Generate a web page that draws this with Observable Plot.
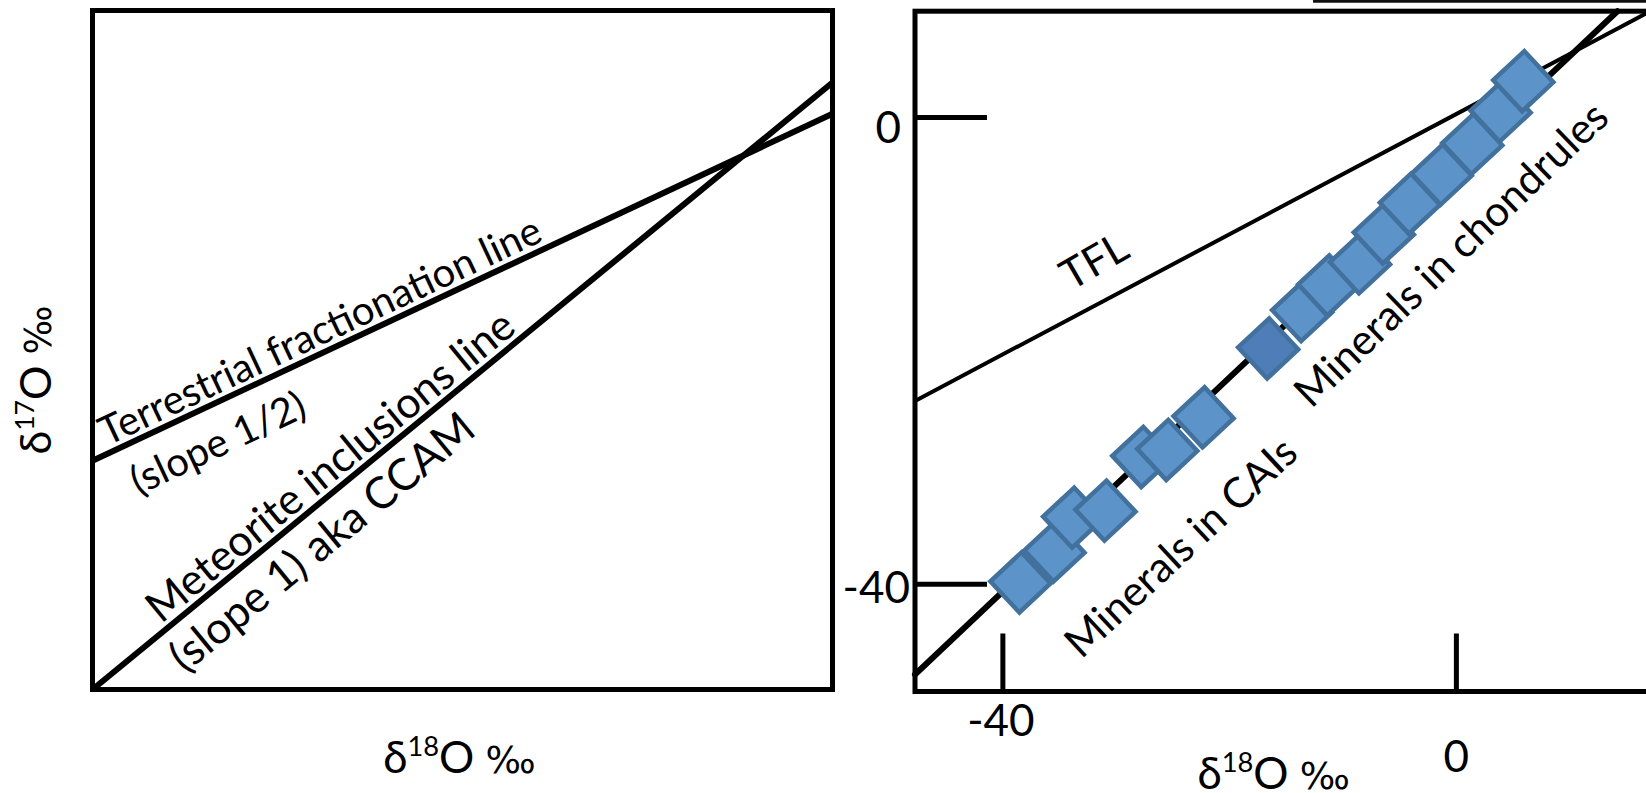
<!DOCTYPE html>
<html><head><meta charset="utf-8">
<script src="https://cdn.jsdelivr.net/npm/d3@7"></script>
<script src="https://cdn.jsdelivr.net/npm/@observablehq/plot@0.6"></script>
<style>
html,body{margin:0;padding:0;background:#fff;overflow:hidden;width:1646px;height:793px;}
#wrap{display:flex;width:1646px;height:793px;}
#left{width:840px;height:793px;flex:none;}
#right{width:806px;height:793px;overflow:hidden;flex:none;}
svg{display:block;max-width:none !important;}
</style></head><body><div id="wrap"><div id="left"></div><div id="right"></div></div>
<script>
// ---------- Left schematic panel (arbitrary units 0–100) ----------
const schematicX = [0, 100];
const tflSchematicY = [33.7, 84.8];
const ccamSchematicY = [0, 89.4];
const schematicLabels = [
  {text: "Terrestrial fractionation line", x: 30.8, y: 52.7, angle: -25.2},
  {text: "(slope 1/2)", x: 17.0, y: 36.2, angle: -25.2},
  {text: "Meteorite inclusions line", x: 32.2, y: 32.8, angle: -39.4},
  {text: "(slope 1) aka CCAM", x: 31.1, y: 21.6, angle: -39.4}
];
const axisLabelX = "δ18O ‰";
const axisLabelY = "δ17O ‰";

// ---------- Right data panel (‰) ----------
const ticksX = [-40, 0];
const ticksY = [0, -40];
const tflX = [-47.75, 16.8];
const tflY = [-24.3, 8.94];
const ccamX = [-47.75, 14.2];
const ccamY = [-47.74, 9.1];
const caiX = [-38.45, -35.45, -33.8, -30.95, -27.7, -25.5, -22.3];
const caiY = [-39.85, -37.2, -34.3, -33.7, -29.1, -28.5, -25.7];
const darkX = [-16.6];
const darkY = [-19.8];
const chondruleX = [-13.6, -11.3, -8.5, -6.4, -4.1, -1.3, 1.4, 3.9, 5.9];
const chondruleY = [-16.6, -14.4, -12.5, -9.95, -7.4, -4.9, -2.3, 0.5, 3.1];
const dataLabels = [
  {text: "TFL", x: -31.9, y: -12.4, angle: -30},
  {text: "Minerals in CAIs", x: -24.25, y: -36.9, angle: -43},
  {text: "Minerals in chondrules", x: -0.4, y: -11.8, angle: -44}
];
const neighbourEdge = {y: 10.0, x1: -12.6, x2: 17.65};

const FONT = "Lato, 'Open Sans', sans-serif";
const tickShape = {draw(context, l) { context.moveTo(0, 0); context.lineTo(0, -l); }};

const left = Plot.plot({
  width: 840, height: 793,
  marginLeft: 92, marginRight: 8, marginTop: 10, marginBottom: 104,
  style: {fontFamily: FONT, background: "white", color: "black"},
  x: {domain: [0, 100], axis: null},
  y: {domain: [0, 100], axis: null},
  marks: [
    Plot.line({length: 2}, {x: schematicX, y: tflSchematicY, stroke: "black", strokeWidth: 6, strokeLinecap: "butt"}),
    Plot.line({length: 2}, {x: schematicX, y: ccamSchematicY, stroke: "black", strokeWidth: 6, strokeLinecap: "butt"}),
    Plot.frame({stroke: "black", strokeWidth: 5}),
    Plot.text(schematicLabels.slice(0, 2), {x: "x", y: "y", text: "text", rotate: "angle", fontSize: 40, textAnchor: "middle", lineAnchor: "middle"}),
    Plot.text(schematicLabels.slice(2, 3), {x: "x", y: "y", text: "text", rotate: "angle", fontSize: 43, textAnchor: "middle", lineAnchor: "middle"}),
    Plot.text(schematicLabels.slice(3), {x: "x", y: "y", text: "text", rotate: "angle", fontSize: 44, textAnchor: "middle", lineAnchor: "middle"}),
    Plot.text([axisLabelX], {frameAnchor: "bottom", textAnchor: "middle", dx: -3, dy: 83, lineAnchor: "bottom", fontSize: 44}),
    Plot.text([axisLabelY], {frameAnchor: "left", textAnchor: "middle", rotate: -90, dx: -42, dy: 30, lineAnchor: "bottom", fontSize: 43})
  ]
});

const right = Plot.plot({
  width: 826, height: 793,
  marginLeft: 74.5, marginRight: 10, marginTop: 10.7, marginBottom: 102,
  style: {fontFamily: FONT, background: "white", color: "black"},
  x: {domain: [-47.75, 17.65], axis: null},
  y: {domain: [-49.2, 9.1], axis: null},
  marks: [
    Plot.ruleY([neighbourEdge], {y: "y", x1: "x1", x2: "x2", stroke: "#111", strokeWidth: 4}),
    Plot.line({length: 2}, {x: tflX, y: tflY, stroke: "black", strokeWidth: 4}),
    Plot.line({length: 2}, {x: ccamX, y: ccamY, stroke: "black", strokeWidth: 6}),
    Plot.frame({stroke: "black", strokeWidth: 5}),
    Plot.vector(ticksY, {y: d => d, frameAnchor: "left", rotate: 90, length: 72, anchor: "start", shape: tickShape, stroke: "black", strokeWidth: 5, strokeLinecap: "butt"}),
    Plot.vector(ticksX, {x: d => d, frameAnchor: "bottom", length: 58, anchor: "start", shape: tickShape, stroke: "black", strokeWidth: 5, strokeLinecap: "butt"}),
    Plot.dot({length: caiX.length}, {x: caiX, y: caiY, symbol: "square", r: 24, rotate: -43, fill: "#5c93c9", stroke: "#41719c", strokeWidth: 4.5}),
    Plot.dot({length: darkX.length}, {x: darkX, y: darkY, symbol: "square", r: 24, rotate: -43, fill: "#4e7db8", stroke: "#41719c", strokeWidth: 4.5}),
    Plot.dot({length: chondruleX.length}, {x: chondruleX, y: chondruleY, symbol: "square", r: 24, rotate: -43, fill: "#5c93c9", stroke: "#41719c", strokeWidth: 4.5}),
    Plot.text(dataLabels, {x: "x", y: "y", text: "text", rotate: "angle", fontSize: 42, textAnchor: "middle", lineAnchor: "middle"}),
    Plot.text(ticksY.filter(d => d === 0), {y: d => d, text: d => String(d), frameAnchor: "left", textAnchor: "end", lineAnchor: "middle", dx: -14, dy: 12, fontSize: 44}),
    Plot.text(ticksY.filter(d => d === -40), {y: d => d, text: d => String(d), frameAnchor: "left", textAnchor: "end", lineAnchor: "middle", dx: -5, dy: 5, fontSize: 44}),
    Plot.text(ticksX.filter(d => d === -40), {x: d => d, text: d => String(d), frameAnchor: "bottom", textAnchor: "middle", lineAnchor: "middle", dx: -2, dy: 30, fontSize: 44}),
    Plot.text(ticksX.filter(d => d === 0), {x: d => d, text: d => String(d), frameAnchor: "bottom", textAnchor: "middle", lineAnchor: "middle", dy: 66, fontSize: 44}),
    Plot.text([axisLabelX], {frameAnchor: "bottom", textAnchor: "middle", dx: -12, dy: 97, lineAnchor: "bottom", fontSize: 44})
  ]
});

document.getElementById("left").appendChild(left);
document.getElementById("right").appendChild(right);

// superscripts for isotope labels
for (const svg of [left, right]) {
  d3.select(svg).selectAll("text").each(function() {
    const t = this.textContent;
    const m = /^δ(\d+)O ‰$/.exec(t);
    if (!m) return;
    const sel = d3.select(this);
    sel.text(null);
    sel.append("tspan").text("δ");
    sel.append("tspan").attr("font-size", "0.62em").attr("dy", "-0.62em").text(m[1]);
    sel.append("tspan").attr("dy", "0.385em").text("O ");
    sel.append("tspan").attr("font-family", "'DejaVu Sans', sans-serif").attr("font-size", "0.85em").text("‰");
  });
}
</script>
</body></html>
